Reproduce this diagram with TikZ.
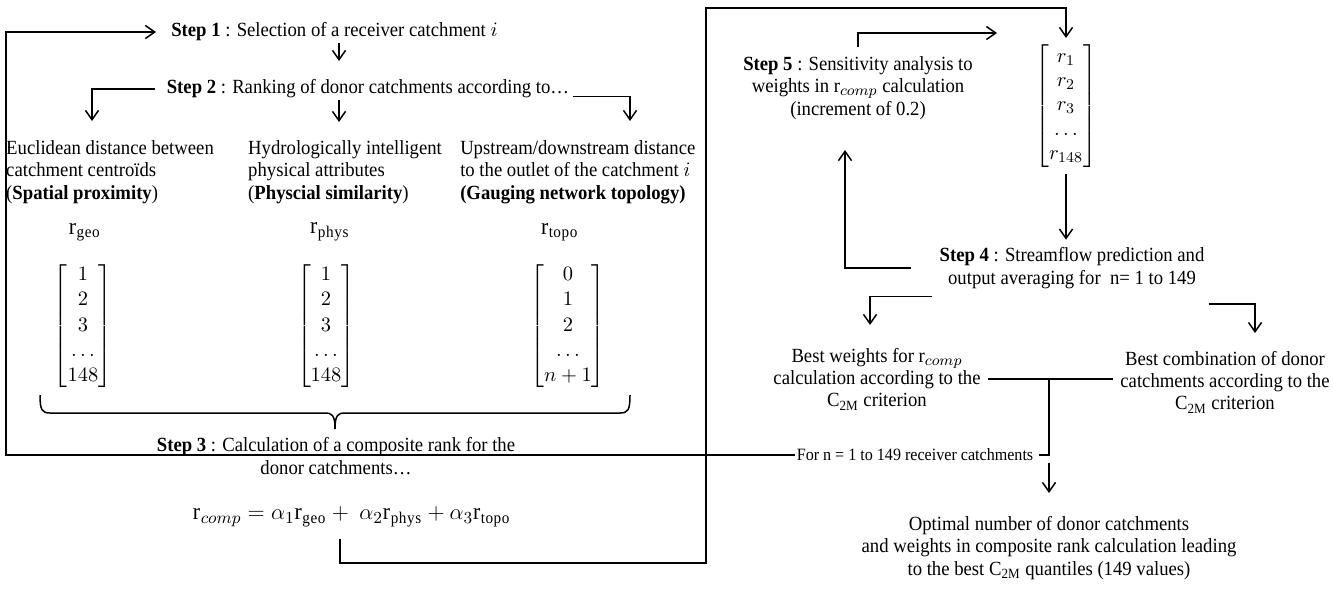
\documentclass[tikz,border=0pt]{standalone}
\usepackage{amsmath}
\usepackage{fontspec}
\setmainfont{Liberation Serif}[FakeStretch=0.93]
\usetikzlibrary{positioning,arrows.meta}

\begin{document}
\begin{tikzpicture}[x=0.0188cm,y=-0.0188cm,
      font=\fontsize{10.75}{12}\selectfont,
      ln/.style={line width=0.8pt},
      arr/.style={line width=0.8pt,-{Straight Barb[length=5pt,width=7pt]}},
      txt/.style={inner sep=1pt,align=center},
      rk/.style={inner sep=1pt,font=\fontsize{12.5}{14}\selectfont}]
    \useasboundingbox (0,0) rectangle (1333,592);
    % left part: steps 1 to 3
    \node[txt,anchor=west,inner xsep=8pt] (step1) at (156,32) {\textbf{Step 1} : Selection of a receiver catchment $i$};
    \node[txt] (step2) at (368,89) {\textbf{Step 2} : Ranking of donor catchments according to\ldots};
    \node[txt,align=left,anchor=north west] (geo) at (4,138) {Euclidean distance between\\catchment centroïds\\(\textbf{Spatial proximity})};
    \node[txt,align=left,anchor=north west] (phys) at (246,138) {Hydrologically intelligent\\physical attributes\\(\textbf{Physcial similarity})};
    \node[txt,align=left,anchor=north west] (topo) at (458,138) {Upstream/downstream distance\\to the outlet of the catchment $i$\\\textbf{(Gauging network topology)}};
    \node[rk] (rgeo) at (85,232) {$\mathrm{r}_{\mathrm{geo}}$};
    \node[rk] (rphys) at (330,232) {$\mathrm{r}_{\mathrm{phys}}$};
    \node[rk] (rtopo) at (560,232) {$\mathrm{r}_{\mathrm{topo}}$};
    \node (mgeo) at (83,326) {$\def\arraystretch{1.12}\begin{bmatrix}1\\2\\3\\\ldots\\148\end{bmatrix}$};
    \node (mphys) at (326,326) {$\def\arraystretch{1.12}\begin{bmatrix}1\\2\\3\\\ldots\\148\end{bmatrix}$};
    \node (mtopo) at (568,326) {$\def\arraystretch{1.12}\begin{bmatrix}0\\1\\2\\\ldots\\n+1\end{bmatrix}$};
    \node[txt] (step3) at (336,456) {\textbf{Step 3} : Calculation of a composite rank for the\\donor catchments\ldots};
    \node[rk] (rcomp) at (352,517) {$\mathrm{r}_{comp} = \alpha_1\mathrm{r}_{\mathrm{geo}} +\ \alpha_2\mathrm{r}_{\mathrm{phys}} + \alpha_3\mathrm{r}_{\mathrm{topo}}$};
    % right part: steps 4 and 5
    \node (vec) at (1066,106) {$\def\arraystretch{1.08}\begin{bmatrix}r_1\\r_2\\r_3\\\ldots\\r_{148}\end{bmatrix}$};
    \node[txt] (step5) at (858,88) {\textbf{Step 5} : Sensitivity analysis to\\weights in r$_{comp}$ calculation\\(increment of 0.2)};
    \node[txt] (step4) at (1072,268) {\textbf{Step 4} : Streamflow prediction and\\output averaging for\ \ n= 1 to 149};
    \node[txt] (bestw) at (877,379) {Best weights for r$_{comp}$\\calculation according to the\\C\textsubscript{2M} criterion};
    \node[txt] (bestc) at (1225,382) {Best combination of donor\\catchments according to the\\C\textsubscript{2M} criterion};
    \node[txt,font=\fontsize{9.25}{11}\selectfont] (forn) at (915,455) {For n = 1 to 149 receiver catchments};
    \node[txt] (opt) at (1049,548) {Optimal number of donor catchments\\and weights in composite rank calculation leading\\to the best C\textsubscript{2M} quantiles (149 values)};
    % arrow ends and corners
    \coordinate (t12) at (339,61);
    \coordinate (tgeo) at (92,121);
    \coordinate (tphys) at (339,122);
    \coordinate (ttopo) at (630,121);
    \coordinate (lft) at (6,455);
    \coordinate (b1) at (340,563);
    \coordinate (b2) at (706,8);
    \coordinate (t5) at (997,33);
    \coordinate (t45) at (845,150);
    \coordinate (tbw) at (870,325);
    \coordinate (tbc) at (1255,333);
    \coordinate (tj) at (1049,379);
    \coordinate (topt) at (1049,493);
    % connectors
    \draw[arr] (step1.south -| t12) -- (t12);
    \draw[arr] ([xshift=-5pt]step2.west) -| (tgeo);
    \draw[arr] (step2.south -| tphys) -- (tphys);
    \draw[arr] ([xshift=1pt,yshift=-4pt]step2.east) -| (ttopo);
    % brace under the three ranks
    \draw[ln] (40,395) .. controls (40,410) and (42,413) .. (50,413) -- (325,413)
      .. controls (332,413) and (335,415) .. (335,429);
    \draw[ln] (630,395) .. controls (630,410) and (628,413) .. (620,413) -- (345,413)
      .. controls (338,413) and (335,415) .. (335,429);
    \draw[arr] (forn.west) -- (lft) |- (step1.west);
    \draw[arr] ([yshift=-5pt]rcomp.south -| b1) -- (b1) -| (b2) -| (vec.north);
    \draw[arr] ([yshift=4pt]step5.north) |- (t5);
    \draw[arr] (vec.south) -- ([yshift=3pt]vec.south |- step4.north);
    \draw[arr] ([xshift=-14pt]step4.west) -| (t45);
    \draw[arr] ([xshift=-3pt,yshift=-3pt]step4.south west) -| (tbw);
    \draw[arr] ([xshift=1pt,yshift=-7pt]step4.south east) -| (tbc);
    \draw[ln] ([xshift=3pt]bestw.east |- tj) -- ([xshift=-3pt]bestc.west |- tj);
    \draw[ln] (tj) |- ([xshift=2pt]forn.east);
    \draw[arr] (tj |- forn.south) -- (topt);
  \end{tikzpicture}
\end{document}
